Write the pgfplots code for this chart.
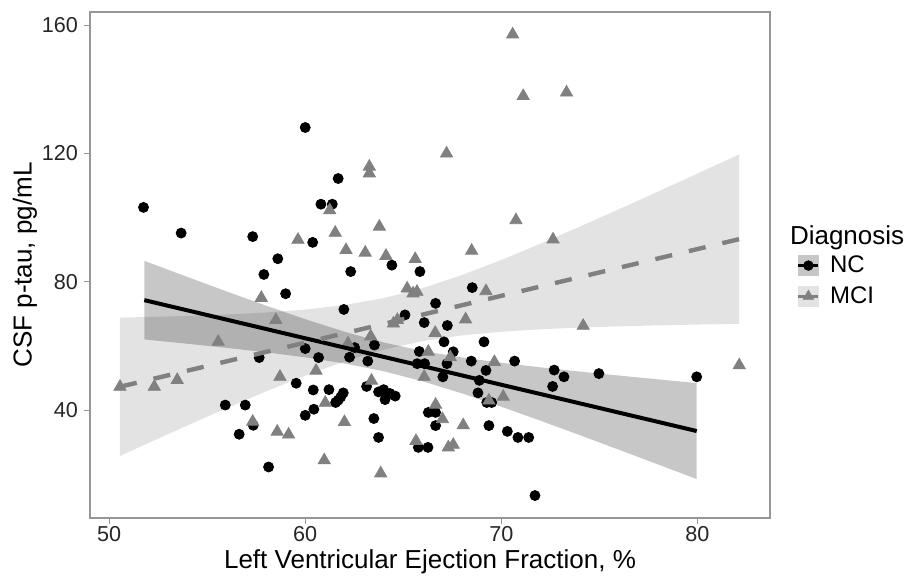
\documentclass[border=0pt]{standalone}
\usepackage{fontspec}
\setmainfont{Liberation Sans}
\usepackage{pgfplots}
\pgfplotsset{compat=1.18}
\definecolor{mcigray}{RGB}{128,128,128}
\definecolor{framegray}{RGB}{150,150,150}

\begin{document}
\begin{tikzpicture}
\path[use as bounding box] (-45pt,-30.5pt) rectangle (412pt,259pt);
\begin{axis}[at={(0pt,0pt)}, anchor=south west,
  scale only axis, width=340pt, height=253pt,
  xmin=49.02, xmax=83.71, ymin=6.4, ymax=164.1,
  clip mode=individual,
  xtick={50,60,70,80}, ytick={40,80,120,160},
  tick pos=left, tick align=outside, major tick length=3pt,
  axis line style={framegray, line width=0.6pt},
  every tick/.style={framegray, line width=0.6pt},
  /pgf/number format/assume math mode=true,
  tick label style={font=\fontsize{10.8}{12}\selectfont, text=black!85},
  xticklabel style={yshift=2.5pt},
  yticklabel style={xshift=0.5pt},
  label style={font=\fontsize{13}{15}\selectfont},
  xlabel={Left Ventricular Ejection Fraction, \%},
  ylabel={CSF p-tau, pg/mL},
  xlabel style={at={(axis description cs:0.5,-0.086)}, anchor=center},
  ylabel style={at={(axis description cs:-0.0956,0.5)}, anchor=center, rotate=0},
  legend style={at={(axis description cs:1.03,0.535)}, anchor=north west,
    draw=none, fill=none, font=\fontsize{12}{14}\selectfont,
    row sep=1.5pt, cells={anchor=west},
    /tikz/every odd column/.append style={column sep=3pt}},
  legend cell align=left,
]
% ribbons (95% CI)
\addplot[draw=none, fill=black, fill opacity=0.11, forget plot] coordinates {
 (50.55,68.85) (52,69.05) (54,69.39) (56,69.84) (58,70.45) (60,71.36) (62,72.76)
 (64,74.92) (66,78.07) (68,82.12) (70,86.81) (72,91.88) (74,97.18) (76,102.61)
 (78,108.14) (80,113.71) (82.14,119.73)
 (82.14,66.91) (80,66.69) (78,66.44) (76,66.13) (74,65.74) (72,65.22) (70,64.45)
 (68,63.32) (66,61.55) (64,58.86) (62,55.20) (60,50.76) (58,45.85) (56,40.64)
 (54,35.27) (52,29.77) (50.55,25.75)} -- cycle;
\addplot[draw=none, fill=black, fill opacity=0.22, forget plot] coordinates {
 (51.79,86.54) (54,81.50) (56,76.99) (58,72.58) (60,68.36) (62,64.46) (64,61.10)
 (66,58.45) (68,56.43) (70,54.78) (72,53.36) (74,52.04) (76,50.80) (78,49.61)
 (79.97,48.46)
 (79.97,18.54) (78,23.09) (76,27.68) (74,32.24) (72,36.72) (70,41.08) (68,45.23)
 (66,48.99) (64,52.14) (62,54.58) (60,56.46) (58,58.04) (56,59.41) (54,60.70)
 (51.79,62.06)} -- cycle;
% NC points
\addplot[only marks, mark=*, mark size=2.5pt, black, forget plot] coordinates {
 (51.75,103.2) (53.67,95.2) (57.32,94.1) (60.0,128.1) (61.68,112.2) (60.80,104.2)
 (61.38,104.2) (60.38,92.3) (58.6,87.2) (57.89,82.3) (59.0,76.3) (62.32,83.2)
 (64.42,85.2) (65.85,83.2) (61.97,71.4) (66.65,73.3) (65.09,69.7) (66.07,67.3)
 (67.25,66.4) (67.08,61.3) (60.0,59.2) (60.68,56.4) (62.26,56.5) (62.52,59.5)
 (63.53,60.3) (63.19,55.3) (65.82,58.3) (65.71,54.5) (66.09,54.5) (67.23,54.5)
 (67.02,50.4) (59.54,48.4) (60.41,46.3) (61.21,46.4) (63.13,47.4) (61.94,45.4)
 (61.81,44.1) (61.68,43.1) (61.55,42.4) (63.74,45.7) (64.0,46.4) (64.32,45.2)
 (64.59,44.4) (64.07,43.3) (60.44,40.3) (60.0,38.4) (63.5,37.4) (63.74,31.5)
 (66.28,39.3) (66.65,39.3) (66.65,35.2) (65.77,28.4) (66.26,28.4) (57.65,56.4)
 (55.92,41.6) (56.94,41.6) (56.63,32.5) (58.13,22.3) (57.35,35.3) (68.52,78.2)
 (69.12,61.3) (67.55,58.2) (68.47,55.3) (70.68,55.3) (69.22,52.4) (68.88,49.3)
 (72.70,52.5) (73.20,50.4) (72.62,47.4) (68.81,45.4) (69.26,42.4) (69.51,42.4)
 (69.37,35.2) (70.31,33.4) (70.85,31.5) (71.40,31.5) (74.98,51.4) (79.97,50.4)
 (71.72,13.4)};
% MCI points
\addplot[only marks, mark=triangle*, mark size=3.5pt, mcigray, forget plot] coordinates {
 (50.55,47.3) (52.3,47.3) (53.47,49.4) (55.56,61.3) (57.76,75.0) (58.5,68.1)
 (58.71,50.4) (57.32,36.4) (58.57,33.3) (59.15,32.4) (59.63,93.1) (60.55,52.3)
 (61.02,42.3) (60.97,24.4) (61.25,102.3) (61.53,95.3) (62.08,89.9) (62.0,36.3)
 (62.18,60.8) (63.06,89.1) (63.27,115.9) (63.27,113.8) (63.78,97.2) (63.34,63.0)
 (63.38,49.2) (63.85,20.3) (64.12,88.1) (64.5,67.0) (64.7,68.1) (65.2,77.9)
 (65.5,76.4) (65.7,76.9) (65.61,87.1) (65.65,30.4) (66.07,50.4) (66.28,58.2)
 (66.63,64.1) (66.65,41.7) (67.0,37.2) (67.21,120.0) (67.3,28.4) (67.55,29.2)
 (67.4,56.5) (68.06,35.3) (68.18,68.3) (68.49,89.7) (69.22,77.1) (69.37,43.0)
 (69.65,55.0) (70.1,44.2) (70.58,157.1) (70.75,99.2) (71.12,137.9) (72.64,93.2)
 (73.33,139.0) (74.18,66.3) (82.14,54.0)};
% fitted lines
\addplot[black, line width=2pt, forget plot] coordinates {(51.79,74.3) (79.97,33.5)};
\addplot[mcigray, line width=2.2pt, dash pattern=on 8.6pt off 8.6pt, forget plot]
 coordinates {(50.55,47.3) (82.14,93.32)};
% legend
\addlegendimage{legend image code/.code={
  \fill[black!22] (0pt,-5pt) rectangle (10pt,5pt);
  \draw[black, line width=1.6pt] (0pt,0pt) -- (10pt,0pt);
  \draw[black, mark=*, mark size=2.4pt] plot coordinates {(5pt,0pt)};}}
\addlegendentry{NC}
\addlegendimage{legend image code/.code={
  \fill[black!11] (0pt,-5pt) rectangle (10pt,5pt);
  \draw[mcigray, line width=1.6pt] (0pt,0pt) -- (10pt,0pt);
  \draw[mcigray, mark=triangle*, mark size=3pt] plot coordinates {(5pt,0pt)};}}
\addlegendentry{MCI}
\node[anchor=west, font=\fontsize{13}{15}\selectfont] at (axis description cs:1.019,0.553) {Diagnosis};
\end{axis}
\end{tikzpicture}
\end{document}
